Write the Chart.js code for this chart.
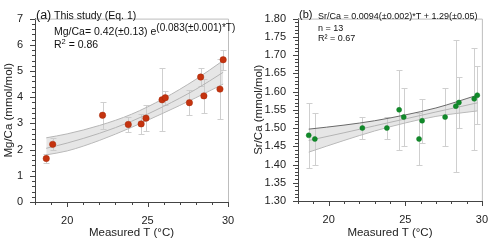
<!DOCTYPE html>
<html>
<head>
<meta charset="utf-8">
<script src="https://cdn.jsdelivr.net/npm/chart.js@4.4.1/dist/chart.umd.min.js"></script>
<style>
  html, body { margin: 0; padding: 0; background: #fff; }
  .panel { position: absolute; top: 0; width: 250px; height: 241px; }
</style>
</head>
<body>
<div class="panel" style="left:0"><canvas id="chartA" width="250" height="241"></canvas></div>
<div class="panel" style="left:250px"><canvas id="chartB" width="250" height="241"></canvas></div>
<script>
// measured temperature of each sample (°C)
const tempC = [18.7, 19.1, 22.2, 23.8, 24.6, 24.9, 25.9, 26.1, 27.6, 28.3, 28.5, 29.5, 29.7];

// panel (a) Mg/Ca
const mgCa = [1.66, 2.2, 3.31, 2.96, 2.98, 3.2, 3.9, 3.98, 3.79, 4.77, 4.05, 4.31, 5.43];
const mgCaErr = [0.18, 0.23, 0.52, 0.3, 0.37, 0.49, 1.2, 0.27, 0.47, 0.36, 0.65, 1.15, 0.39];

// panel (b) Sr/Ca
const srCa = [1.48, 1.47, 1.50, 1.50, 1.55, 1.53, 1.47, 1.52, 1.53, 1.56, 1.57, 1.58, 1.59];
const srCaErr = [0.09, 0.07, 0.03, 0.03, 0.11, 0.08, 0.07, 0.06, 0.08, 0.18, 0.07, 0.14, 0.08];

// regression curves with confidence band
const fitTempA = [18.7, 20, 22, 24, 26, 28, 29.7];
const fitMidA = [2.05, 2.25, 2.62, 3.08, 3.65, 4.3, 4.95];
const fitUpperA = [2.45, 2.6, 2.92, 3.35, 3.95, 4.68, 5.4];
const fitLowerA = [1.8, 1.95, 2.35, 2.85, 3.4, 3.98, 4.5];

const fitTempB = [18.7, 21, 23, 25, 27, 29.7];
const fitMidB = [1.466, 1.487, 1.506, 1.525, 1.544, 1.569];
const fitUpperB = [1.497, 1.508, 1.52, 1.536, 1.555, 1.59];
const fitLowerB = [1.434, 1.466, 1.492, 1.514, 1.532, 1.547];

// axis ticks
const xTicks = { min: 18, max: 30, step: 1, major: 5 };
const yTicksA = { min: 0, max: 7, step: 0.2, major: 1 };
const yTicksB = { min: 1.3, max: 1.8, step: 0.01, major: 0.05 };

const FONT = "'Liberation Sans', Arial, sans-serif";

function isMultiple(v, step) {
  const r = v / step;
  return Math.abs(r - Math.round(r)) < 1e-6;
}

function pts(xs, ys) {
  return xs.map((x, i) => ({ x, y: ys[i] }));
}

const errorBars = {
  id: 'errorBars',
  beforeDatasetsDraw(chart, args, opts) {
    const { ctx, scales: { x, y } } = chart;
    ctx.save();
    ctx.strokeStyle = '#cfcfcf';
    ctx.lineWidth = 1;
    ctx.beginPath();
    opts.xs.forEach((t, i) => {
      const px = Math.round(x.getPixelForValue(t)) + 0.5;
      const top = Math.round(y.getPixelForValue(opts.ys[i] + opts.err[i])) + 0.5;
      const bot = Math.round(y.getPixelForValue(opts.ys[i] - opts.err[i])) + 0.5;
      ctx.moveTo(px, top); ctx.lineTo(px, bot);
      ctx.moveTo(px - 3, top); ctx.lineTo(px + 3, top);
      ctx.moveTo(px - 3, bot); ctx.lineTo(px + 3, bot);
    });
    ctx.stroke();
    ctx.restore();
  }
};

// frame on top/right plus major and minor tick marks
const axisTicks = {
  id: 'axisTicks',
  afterDraw(chart, args, opts) {
    const { ctx, chartArea: a, scales: { x, y } } = chart;
    ctx.save();
    ctx.lineWidth = 1;
    ctx.strokeStyle = '#bdbdbd';
    ctx.beginPath();
    ctx.moveTo(a.left, a.top + 0.5);
    ctx.lineTo(a.right + 0.5, a.top + 0.5);
    ctx.lineTo(a.right + 0.5, a.bottom);
    ctx.stroke();
    ctx.strokeStyle = '#444';
    ctx.beginPath();
    x.ticks.forEach(t => {
      const px = Math.round(x.getPixelForValue(t.value)) + 0.5;
      const len = isMultiple(t.value, opts.xMajor) ? 5 : 3;
      ctx.moveTo(px, a.bottom); ctx.lineTo(px, a.bottom + len);
    });
    y.ticks.forEach(t => {
      const py = Math.round(y.getPixelForValue(t.value)) + 0.5;
      const len = isMultiple(t.value, opts.yMajor) ? 5 : 3;
      ctx.moveTo(a.left, py); ctx.lineTo(a.left - len, py);
    });
    ctx.stroke();
    ctx.restore();
  }
};

function lineSet(xs, ys, color, fill) {
  return {
    data: pts(xs, ys),
    showLine: true,
    borderColor: color,
    borderWidth: 1,
    pointRadius: 0,
    cubicInterpolationMode: 'monotone',
    fill: fill || false,
    backgroundColor: 'rgba(200,200,200,0.45)'
  };
}

function makeOptions(yt, yTitle, yFmt, yWidth, pad, xHeight, plugOpts) {
  return {
    responsive: false,
    animation: false,
    layout: { padding: pad },
    plugins: {
      legend: { display: false },
      tooltip: { enabled: false },
      errorBars: plugOpts,
      axisTicks: { xMajor: xTicks.major, yMajor: yt.major }
    },
    scales: {
      x: {
        type: 'linear',
        min: xTicks.min, max: xTicks.max,
        afterFit(s) { s.height = xHeight; },
        grid: { display: false, drawTicks: false },
        border: { display: true, color: '#444', width: 1 },
        ticks: {
          stepSize: xTicks.step, autoSkip: false, maxRotation: 0, padding: 12,
          color: '#222', font: { family: FONT, size: 11 },
          callback: v => isMultiple(v, xTicks.major) ? String(Math.round(v)) : ''
        },
        title: { display: true, text: 'Measured T (°C)', color: '#222', padding: { top: 0, bottom: 1 }, font: { family: FONT, size: 11.5 } }
      },
      y: {
        type: 'linear',
        min: yt.min, max: yt.max,
        afterFit(s) { s.width = yWidth; },
        grid: { display: false, drawTicks: false },
        border: { display: true, color: '#444', width: 1 },
        ticks: {
          stepSize: yt.step, autoSkip: false, padding: 12,
          color: '#222', font: { family: FONT, size: 11 },
          callback: v => isMultiple(v, yt.major) ? yFmt(v) : ''
        },
        title: { display: true, text: yTitle, color: '#222', padding: { top: 2, bottom: 0 }, font: { family: FONT, size: 11.5 } }
      }
    }
  };
}

const notesA = {
  id: 'notesA',
  afterDraw(chart) {
    const ctx = chart.ctx;
    ctx.save();
    ctx.fillStyle = '#111';
    ctx.textBaseline = 'middle';
    ctx.font = '12.5px ' + FONT;
    ctx.fillText('(a)', 36, 16);
    ctx.font = '10.5px ' + FONT;
    ctx.fillText('This study (Eq. 1)', 54, 16);
    const base = 'Mg/Ca= 0.42(±0.13) e';
    ctx.fillText(base, 54, 32);
    const w = ctx.measureText(base).width;
    ctx.font = '10px ' + FONT;
    ctx.fillText('(0.083(±0.001)*T)', 54 + w, 28);
    ctx.font = '10.5px ' + FONT;
    ctx.fillText('R', 54, 45);
    const wr = ctx.measureText('R').width;
    ctx.font = '7.5px ' + FONT;
    ctx.fillText('2', 54 + wr, 42);
    const w2 = ctx.measureText('2').width;
    ctx.font = '10.5px ' + FONT;
    ctx.fillText(' = 0.86', 54 + wr + w2, 45);
    ctx.restore();
  }
};

const notesB = {
  id: 'notesB',
  afterDraw(chart) {
    const ctx = chart.ctx;
    ctx.save();
    ctx.fillStyle = '#111';
    ctx.textBaseline = 'middle';
    ctx.font = '11px ' + FONT;
    ctx.fillText('(b)', 49, 15);
    ctx.font = '9px ' + FONT;
    ctx.fillText('Sr/Ca = 0.0094(±0.002)*T + 1.29(±0.05)', 68, 16.5);
    ctx.fillText('n = 13', 68, 29);
    ctx.fillText('R² = 0.67', 68, 38.5);
    ctx.restore();
  }
};

new Chart(document.getElementById('chartA'), {
  type: 'scatter',
  data: {
    datasets: [
      { data: pts(tempC, mgCa), pointRadius: 3.2, backgroundColor: '#c5330f', borderColor: '#a52a0a', borderWidth: 0.5 },
      lineSet(fitTempA, fitUpperA, '#b5b5b5', '+2'),
      lineSet(fitTempA, fitMidA, '#a5a5a5'),
      lineSet(fitTempA, fitLowerA, '#b5b5b5')
    ]
  },
  options: makeOptions(yTicksA, 'Mg/Ca (mmol/mol)', v => String(Math.round(v)), 35,
    { left: 0, right: 22, top: 7, bottom: 0 }, 39,
    { xs: tempC, ys: mgCa, err: mgCaErr }),
  plugins: [errorBars, axisTicks, notesA]
});

new Chart(document.getElementById('chartB'), {
  type: 'scatter',
  data: {
    datasets: [
      { data: pts(tempC, srCa), pointRadius: 2.5, backgroundColor: '#118a2a', borderColor: '#0c7a22', borderWidth: 0.5 },
      lineSet(fitTempB, fitUpperB, '#6a6a6a', '+2'),
      lineSet(fitTempB, fitMidB, '#a5a5a5'),
      lineSet(fitTempB, fitLowerB, '#b5b5b5')
    ]
  },
  options: makeOptions(yTicksB, 'Sr/Ca (mmol/mol)', v => v.toFixed(2), 48,
    { left: 0, right: 8, top: 8, bottom: 0 }, 40,
    { xs: tempC, ys: srCa, err: srCaErr }),
  plugins: [errorBars, axisTicks, notesB]
});
</script>
</body>
</html>
